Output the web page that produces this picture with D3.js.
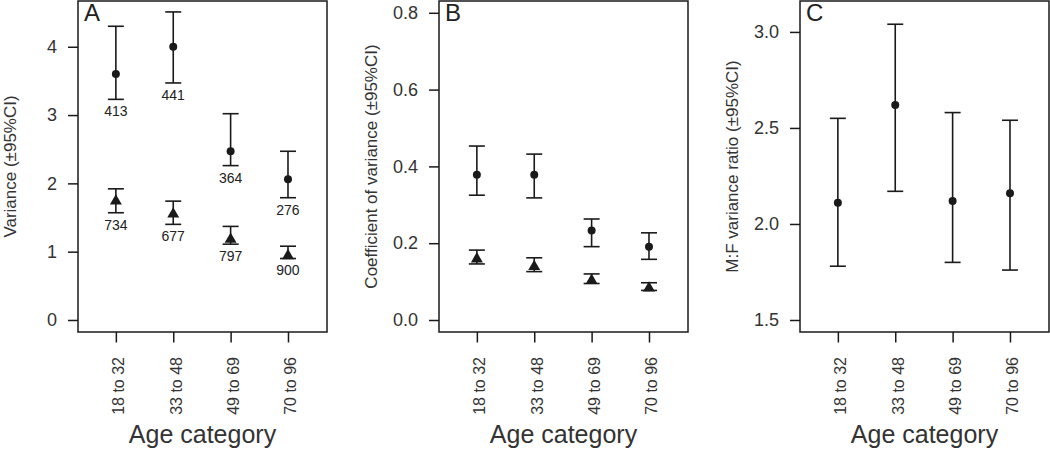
<!DOCTYPE html>
<html>
<head>
<meta charset="utf-8">
<script src="https://cdn.jsdelivr.net/npm/d3@7"></script>
<style>
  body { margin: 0; background: #fff; }
  svg text { font-family: "Liberation Sans", Arial, sans-serif; }
</style>
</head>
<body>
<svg id="chart" width="1050" height="450"></svg>

<script>
// age groups on the x axis
var ageGroups = ["18 to 32", "33 to 48", "49 to 69", "70 to 96"]

// panel A: variance, circles (upper series) and triangles (lower series), with n
var varCirc   = [3.60, 4.00, 2.47, 2.06]
var varCircLo = [3.23, 3.47, 2.26, 1.79]
var varCircHi = [4.30, 4.51, 3.02, 2.47]
var varCircN  = [413, 441, 364, 276]

var varTri   = [1.74, 1.55, 1.18, 0.94]
var varTriLo = [1.57, 1.40, 1.11, 0.90]
var varTriHi = [1.92, 1.74, 1.37, 1.08]
var varTriN  = [734, 677, 797, 900]

// panel B: coefficient of variance
var cvCirc   = [0.378, 0.378, 0.233, 0.191]
var cvCircLo = [0.325, 0.318, 0.191, 0.158]
var cvCircHi = [0.453, 0.432, 0.263, 0.227]

var cvTri   = [0.159, 0.139, 0.103, 0.083]
var cvTriLo = [0.146, 0.126, 0.095, 0.077]
var cvTriHi = [0.182, 0.162, 0.120, 0.097]

// panel C: M:F variance ratio
var ratio   = [2.11, 2.62, 2.12, 2.16]
var ratioLo = [1.78, 2.17, 1.80, 1.76]
var ratioHi = [2.55, 3.04, 2.58, 2.54]

// y ticks
var ticksA = [0, 1, 2, 3, 4]
var ticksB = [0.0, 0.2, 0.4, 0.6, 0.8]
var ticksC = [1.5, 2.0, 2.5, 3.0]

var ink = "#1a1a1a"
var textCol = "#333"

var svg = d3.select("#chart")

var boxW = 249, boxTop = 1, boxBottom = 332

function series(est, lo, hi, n, shape){
	return est.map(function(d, i){
		return {i: i + 1, est: d, lo: lo[i], hi: hi[i], n: n ? n[i] : null, shape: shape}
	})
}

var panels = [
	{left: 78, letter: "A", title: "Variance (\u00b195%CI)", domain: [-0.176, 4.67], ticks: ticksA, fmt: d3.format("d"),
	 series: [series(varCirc, varCircLo, varCircHi, varCircN, "circle"), series(varTri, varTriLo, varTriHi, varTriN, "triangle")]},
	{left: 439, letter: "B", title: "Coefficient of variance (\u00b195%CI)", domain: [-0.03125, 0.8307], ticks: ticksB, fmt: d3.format(".1f"),
	 series: [series(cvCirc, cvCircLo, cvCircHi, null, "circle"), series(cvTri, cvTriLo, cvTriHi, null, "triangle")]},
	{left: 800, letter: "C", title: "M:F variance ratio (\u00b195%CI)", domain: [1.4375, 3.161], ticks: ticksC, fmt: d3.format(".1f"),
	 series: [series(ratio, ratioLo, ratioHi, null, "circle")]}
]

panels.forEach(function(p){
	var g = svg.append("g").attr("transform", "translate(" + p.left + ",0)")

	var x = d3.scaleLinear().domain([0.34, 4.68]).range([0, boxW])
	var y = d3.scaleLinear().domain(p.domain).range([boxBottom, boxTop])

	// y axis
	var ya = g.append("g")
		.call(d3.axisLeft(y).tickValues(p.ticks).tickFormat(p.fmt).tickSize(10).tickPadding(11))
	ya.select(".domain").remove()
	ya.selectAll("line").attr("stroke", ink).attr("stroke-width", 1.5)
	ya.selectAll("text").attr("fill", textCol).style("font-size", "18px")

	// x axis, rotated labels
	var xa = g.append("g")
		.attr("transform", "translate(0," + boxBottom + ")")
		.call(d3.axisBottom(x).tickValues([1, 2, 3, 4]).tickFormat(function(d){ return ageGroups[d - 1] }).tickSize(10.5))
	xa.select(".domain").remove()
	xa.selectAll("line").attr("stroke", ink).attr("stroke-width", 1.5)
	xa.selectAll("text")
		.attr("fill", textCol)
		.style("font-size", "16px")
		.attr("transform", "rotate(-90)")
		.attr("text-anchor", "end")
		.attr("x", -25)
		.attr("y", 0)
		.attr("dy", "0.5em")

	// box
	g.append("rect")
		.attr("x", 0).attr("y", boxTop)
		.attr("width", boxW).attr("height", boxBottom - boxTop)
		.attr("fill", "none").attr("stroke", ink).attr("stroke-width", 1.5)

	// titles
	g.append("text")
		.attr("transform", "translate(-67," + ((boxTop + boxBottom) / 2) + ") rotate(-90)")
		.attr("text-anchor", "middle").attr("dy", "0.32em")
		.attr("fill", textCol).style("font-size", "17px")
		.text(p.title)

	g.append("text")
		.attr("x", boxW / 2).attr("y", 443)
		.attr("text-anchor", "middle")
		.attr("fill", textCol).style("font-size", "25px")
		.text("Age category")

	g.append("text")
		.attr("x", 6).attr("y", 21)
		.attr("fill", "#222").style("font-size", "24px")
		.text(p.letter)

	p.series.forEach(function(s){
		var bars = g.append("g").selectAll("g").data(s).enter().append("g")

		bars.append("line")
			.attr("x1", function(d){ return x(d.i) }).attr("x2", function(d){ return x(d.i) })
			.attr("y1", function(d){ return y(d.lo) }).attr("y2", function(d){ return y(d.hi) })
			.attr("stroke", ink).attr("stroke-width", 1.6)
		bars.append("line")
			.attr("x1", function(d){ return x(d.i) - 8 }).attr("x2", function(d){ return x(d.i) + 8 })
			.attr("y1", function(d){ return y(d.hi) }).attr("y2", function(d){ return y(d.hi) })
			.attr("stroke", ink).attr("stroke-width", 1.6)
		bars.append("line")
			.attr("x1", function(d){ return x(d.i) - 8 }).attr("x2", function(d){ return x(d.i) + 8 })
			.attr("y1", function(d){ return y(d.lo) }).attr("y2", function(d){ return y(d.lo) })
			.attr("stroke", ink).attr("stroke-width", 1.6)

		if (s[0].shape == "circle"){
			bars.append("circle")
				.attr("cx", function(d){ return x(d.i) })
				.attr("cy", function(d){ return y(d.est) })
				.attr("r", 4)
				.attr("fill", ink)
		}
		else {
			bars.append("path")
				.attr("d", d3.symbol(d3.symbolTriangle, 62))
				.attr("transform", function(d){ return "translate(" + x(d.i) + "," + y(d.est) + ")" })
				.attr("fill", ink)
		}

		// sample sizes under the lower whisker
		bars.filter(function(d){ return d.n != null }).append("text")
			.attr("x", function(d){ return x(d.i) })
			.attr("y", function(d){ return y(d.lo) + 12 })
			.attr("dy", "0.35em")
			.attr("text-anchor", "middle")
			.attr("fill", "#222").style("font-size", "14px")
			.text(function(d){ return d.n })
	})
})
</script>
</body>
</html>
